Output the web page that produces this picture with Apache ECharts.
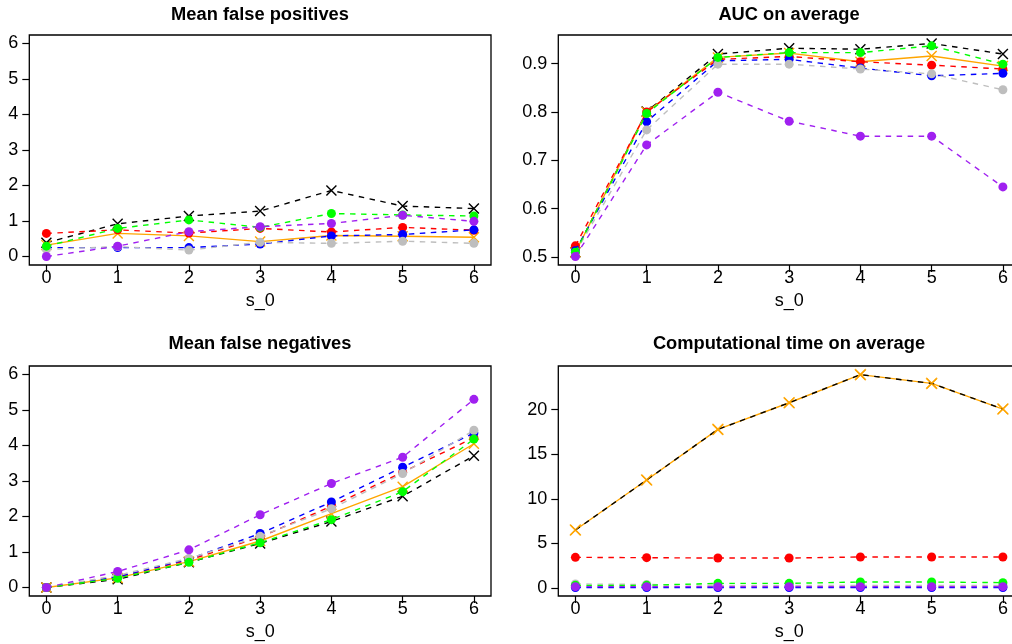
<!DOCTYPE html>
<html>
<head>
<meta charset="utf-8">
<script src="https://cdn.jsdelivr.net/npm/echarts@6/dist/echarts.min.js"></script>
<style>
  html, body { margin: 0; padding: 0; background: #fff; }
  #chart { width: 1012px; height: 644px; }
</style>
</head>
<body>
<div id="chart"></div>
<script>
// x positions shared by every panel
const s0 = [0, 1, 2, 3, 4, 5, 6];
const xTicks = [0, 1, 2, 3, 4, 5, 6];

// tick labels per panel
const countTicks = [0, 1, 2, 3, 4, 5, 6];
const aucTicks = [0.5, 0.6, 0.7, 0.8, 0.9];
const timeTicks = [0, 5, 10, 15, 20];

// panel titles
const titles = ["Mean false positives", "AUC on average", "Mean false negatives", "Computational time on average"];
const xName = "s_0";

// Mean false positives
const fpBlack  = [0.39, 0.92, 1.14, 1.28, 1.86, 1.42, 1.35];
const fpOrange = [0.32, 0.65, 0.58, 0.42, 0.59, 0.57, 0.54];
const fpRed    = [0.65, 0.75, 0.66, 0.79, 0.69, 0.82, 0.74];
const fpBlue   = [0.25, 0.25, 0.25, 0.35, 0.58, 0.62, 0.75];
const fpGray   = [0.20, 0.28, 0.18, 0.40, 0.37, 0.43, 0.37];
const fpGreen  = [0.29, 0.79, 1.03, 0.82, 1.21, 1.17, 1.14];
const fpPurple = [0.00, 0.29, 0.70, 0.84, 0.93, 1.16, 0.99];

// AUC on average
const aucBlack  = [0.510, 0.801, 0.920, 0.932, 0.930, 0.942, 0.920];
const aucOrange = [0.510, 0.800, 0.913, 0.922, 0.904, 0.916, 0.895];
const aucRed    = [0.523, 0.800, 0.909, 0.915, 0.904, 0.897, 0.889];
const aucBlue   = [0.513, 0.780, 0.906, 0.909, 0.891, 0.875, 0.880];
const aucGray   = [0.509, 0.763, 0.899, 0.899, 0.889, 0.879, 0.846];
const aucGreen  = [0.510, 0.797, 0.913, 0.923, 0.923, 0.937, 0.899];
const aucPurple = [0.501, 0.732, 0.841, 0.781, 0.750, 0.750, 0.645];

// Mean false negatives
const fnBlack  = [0, 0.23, 0.71, 1.24, 1.86, 2.57, 3.71];
const fnOrange = [0, 0.27, 0.73, 1.31, 2.08, 2.84, 4.05];
const fnRed    = [0, 0.30, 0.77, 1.42, 2.29, 3.25, 4.22];
const fnBlue   = [0, 0.30, 0.80, 1.52, 2.41, 3.39, 4.35];
const fnGray   = [0, 0.34, 0.82, 1.44, 2.22, 3.21, 4.43];
const fnGreen  = [0, 0.26, 0.71, 1.26, 1.91, 2.70, 4.18];
const fnPurple = [0, 0.45, 1.06, 2.05, 2.93, 3.67, 5.30];

// Computational time on average
const timeBlack  = [6.50, 12.11, 17.79, 20.78, 23.93, 22.95, 20.07];
const timeOrange = [6.50, 12.11, 17.79, 20.78, 23.93, 22.95, 20.07];
const timeRed    = [3.44, 3.40, 3.36, 3.36, 3.48, 3.48, 3.48];
const timeBlue   = [0.06, 0.06, 0.06, 0.06, 0.06, 0.06, 0.06];
const timeGray   = [0.45, 0.40, 0.30, 0.30, 0.30, 0.30, 0.30];
const timeGreen  = [0.30, 0.30, 0.52, 0.52, 0.67, 0.67, 0.60];
const timePurple = [0.15, 0.15, 0.15, 0.15, 0.15, 0.15, 0.15];

const FONT = "'Liberation Sans', Arial, Helvetica, sans-serif";
const COL = {
  black: '#000000', orange: '#FFA500', red: '#FF0000', blue: '#0000FF',
  gray: '#BEBEBE', green: '#00FF00', purple: '#A020F0'
};
const CROSS = 'path://M0,0L10,10M10,0L0,10';
const DASH = [5.5, 5.5];
const LW = 1.4;

function pairs(values) {
  return s0.map((x, i) => [x, values[i]]);
}

// a line drawn through x marks or filled dots, dashed or solid
function series(idx, values, color, mark, solid, z) {
  const cross = mark === 'cross';
  return {
    type: 'line',
    xAxisIndex: idx, yAxisIndex: idx,
    data: pairs(values),
    z: z,
    symbol: cross ? CROSS : 'circle',
    symbolSize: cross ? 10 : 9,
    showAllSymbol: true,
    lineStyle: { color: color, width: LW, type: solid ? 'solid' : DASH },
    itemStyle: cross
      ? { color: 'rgba(0,0,0,0)', borderColor: color, borderWidth: 1.4 }
      : { color: color, borderWidth: 0 },
    emphasis: { disabled: true },
    silent: true
  };
}

function panelSeries(idx, d) {
  return [
    series(idx, d.black, COL.black, 'cross', false, 2),
    series(idx, d.orange, COL.orange, 'cross', true, 3),
    series(idx, d.red, COL.red, 'dot', false, 4),
    series(idx, d.blue, COL.blue, 'dot', false, 5),
    series(idx, d.gray, COL.gray, 'dot', false, 6),
    series(idx, d.green, COL.green, 'dot', false, 7),
    series(idx, d.purple, COL.purple, 'dot', false, 8)
  ];
}

// the right-hand panels run past the right edge of the page
const grids = [
  { left: 29.3, top: 35, width: 461.7, height: 230 },
  { left: 558.3, top: 35, width: 461.7, height: 230 },
  { left: 29.3, top: 366, width: 461.7, height: 230 },
  { left: 558.3, top: 366, width: 461.7, height: 230 }
].map(g => Object.assign({
  show: true, borderColor: '#000', borderWidth: 1.3, backgroundColor: 'transparent',
  containLabel: false, outerBoundsMode: 'none'
}, g));

const textStyle = { color: '#000', fontFamily: FONT, fontSize: 18 };

function xAxis(idx) {
  return {
    type: 'value', gridIndex: idx, min: -0.24, max: 6.24,
    name: xName, nameLocation: 'middle', nameGap: 27,
    nameTextStyle: textStyle,
    axisLine: { show: false, onZero: false },
    axisTick: { show: true, inside: false, length: 7, customValues: xTicks, lineStyle: { color: '#000', width: 1.2 } },
    axisLabel: Object.assign({ show: true, margin: 4.5, customValues: xTicks, hideOverlap: false }, textStyle),
    splitLine: { show: false }
  };
}

function yAxis(idx, min, max, ticks, fmt) {
  return {
    type: 'value', gridIndex: idx, min: min, max: max,
    axisLine: { show: false, onZero: false },
    axisTick: { show: true, inside: false, length: 7, customValues: ticks, lineStyle: { color: '#000', width: 1.2 } },
    axisLabel: Object.assign({ show: true, margin: 11, customValues: ticks, formatter: fmt }, textStyle),
    splitLine: { show: false }
  };
}

const titleSpots = [[260, 14.5], [789, 14.5], [260, 343.5], [789, 343.5]];

const allSeries = []
  .concat(panelSeries(0, { black: fpBlack, orange: fpOrange, red: fpRed, blue: fpBlue, gray: fpGray, green: fpGreen, purple: fpPurple }))
  .concat(panelSeries(1, { black: aucBlack, orange: aucOrange, red: aucRed, blue: aucBlue, gray: aucGray, green: aucGreen, purple: aucPurple }))
  .concat(panelSeries(2, { black: fnBlack, orange: fnOrange, red: fnRed, blue: fnBlue, gray: fnGray, green: fnGreen, purple: fnPurple }));

// timing panel: the dashed black line runs over the solid orange one,
// and the orange crosses sit on top of both
const tOrange = series(3, timeOrange, COL.orange, 'cross', true, 2);
const tBlack = Object.assign(series(3, timeBlack, COL.black, 'cross', false, 3), { showSymbol: false });
const tOrangeMarks = {
  type: 'scatter', xAxisIndex: 3, yAxisIndex: 3, data: pairs(timeOrange), z: 4,
  symbol: CROSS, symbolSize: 11,
  itemStyle: { color: 'rgba(0,0,0,0)', borderColor: COL.orange, borderWidth: 1.5 },
  emphasis: { disabled: true }, silent: true
};
allSeries.push(
  tOrange, tBlack, tOrangeMarks,
  series(3, timeRed, COL.red, 'dot', false, 5),
  series(3, timeGray, COL.gray, 'dot', false, 6),
  series(3, timeGreen, COL.green, 'dot', false, 7),
  series(3, timeBlue, COL.blue, 'dot', false, 8),
  series(3, timePurple, COL.purple, 'dot', false, 9)
);

const chart = echarts.init(document.getElementById('chart'), null, { renderer: 'canvas' });
chart.setOption({
  animation: false,
  backgroundColor: '#fff',
  grid: grids,
  xAxis: [xAxis(0), xAxis(1), xAxis(2), xAxis(3)],
  yAxis: [
    yAxis(0, -0.24, 6.24, countTicks, v => String(v)),
    yAxis(1, 0.4834, 0.9594, aucTicks, v => v.toFixed(1)),
    yAxis(2, -0.24, 6.24, countTicks, v => String(v)),
    yAxis(3, -0.897, 24.9, timeTicks, v => String(v))
  ],
  graphic: titles.map((t, i) => ({
    type: 'text', x: titleSpots[i][0], y: titleSpots[i][1], silent: true,
    style: { text: t, fill: '#000', font: 'bold 18.3px ' + FONT, textAlign: 'center', textVerticalAlign: 'middle' }
  })),
  series: allSeries
});
</script>
</body>
</html>
